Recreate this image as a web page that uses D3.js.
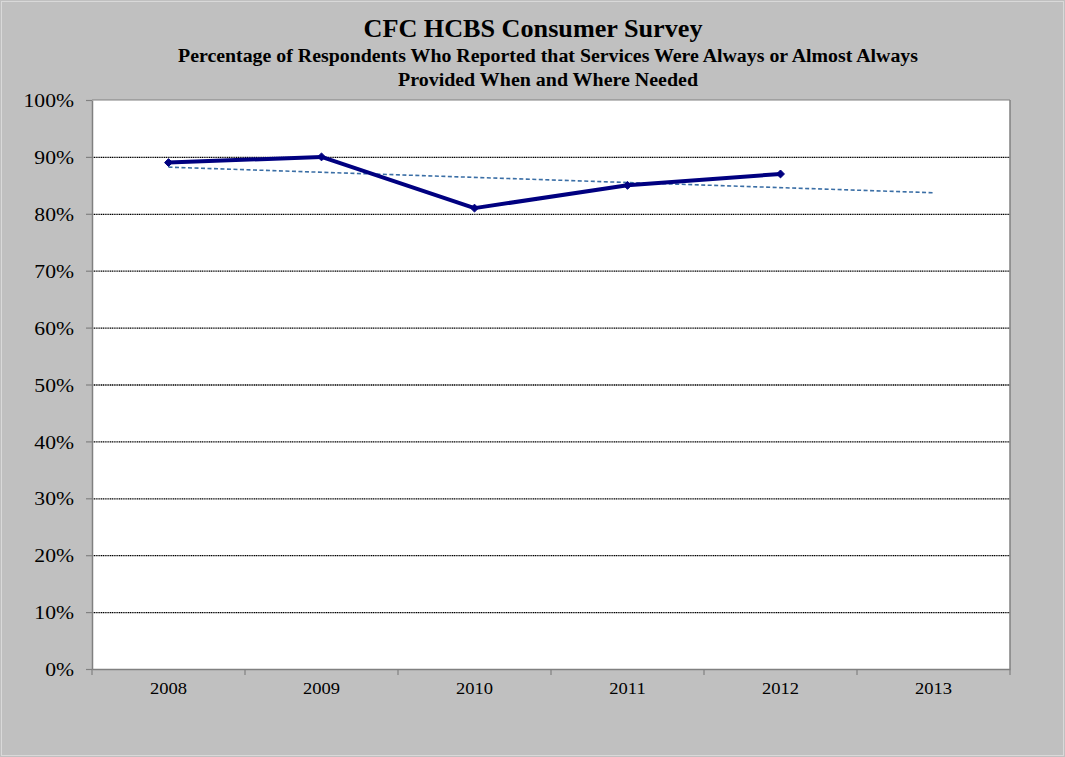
<!DOCTYPE html>
<html>
<head>
<meta charset="utf-8">
<script src="https://cdn.jsdelivr.net/npm/d3@7"></script>
<style>
  html, body { margin: 0; padding: 0; background: #c0c0c0; }
  svg { display: block; }
</style>
</head>
<body>
<svg id="chart" width="1065" height="757"></svg>
<script>
// ---- data ----
const categories = ["2008", "2009", "2010", "2011", "2012", "2013"];
const surveyYears = ["2008", "2009", "2010", "2011", "2012"];
const surveyValues = [89, 90, 81, 85, 87];
const yTicks = [0, 10, 20, 30, 40, 50, 60, 70, 80, 90, 100];
const titleText = "CFC HCBS Consumer Survey";
const subtitleLines = [
  "Percentage of Respondents Who Reported that Services Were Always or Almost Always",
  "Provided When and Where Needed"
];

// ---- layout ----
const W = 1065, H = 757;
const plot = { left: 92, right: 1010, top: 100, bottom: 669 };
const svg = d3.select("#chart");
const serif = "'Liberation Serif', 'Times New Roman', serif";

// widen text horizontally to mimic the reference's wider glyph rendering
function stretch(sel, factor) {
  sel.each(function () {
    const len = this.getComputedTextLength();
    d3.select(this).attr("textLength", len * factor).attr("lengthAdjust", "spacingAndGlyphs");
  });
}

svg.append("rect").attr("x", 0).attr("y", 0).attr("width", W).attr("height", H).attr("fill", "#c0c0c0");
svg.append("rect").attr("x", 1.5).attr("y", 1.5).attr("width", W - 3).attr("height", H - 3)
  .attr("fill", "none").attr("stroke", "#d9d9d9").attr("stroke-width", 1);

const x = d3.scaleBand().domain(categories).range([plot.left, plot.right]).padding(0);
const y = d3.scaleLinear().domain([0, 100]).range([plot.bottom, plot.top]);

// plot background
svg.append("rect").attr("x", plot.left).attr("y", plot.top)
  .attr("width", plot.right - plot.left).attr("height", plot.bottom - plot.top)
  .attr("fill", "#ffffff");

// gridlines
svg.append("g").selectAll("line").data(yTicks.filter(d => d > 0 && d < 100)).join("line")
  .attr("x1", plot.left).attr("x2", plot.right)
  .attr("y1", d => y(d) + 0.5).attr("y2", d => y(d) + 0.5)
  .attr("stroke", "#000").attr("stroke-width", 1.3).attr("stroke-dasharray", "1.2,0.6");

// plot border (right/top grey)
svg.append("line").attr("x1", plot.left).attr("x2", plot.right).attr("y1", plot.top).attr("y2", plot.top)
  .attr("stroke", "#808080").attr("stroke-width", 1.2);
svg.append("line").attr("x1", plot.right).attr("x2", plot.right).attr("y1", plot.top).attr("y2", plot.bottom)
  .attr("stroke", "#808080").attr("stroke-width", 1.5);

// y axis
const yAxis = d3.axisLeft(y).tickValues(yTicks).tickFormat(d => d + "%").tickSizeInner(6).tickSizeOuter(0).tickPadding(12);
const gy = svg.append("g").attr("transform", `translate(${plot.left},0)`).call(yAxis);
gy.select(".domain").attr("stroke", "#808080").attr("stroke-width", 1.5);
gy.selectAll(".tick line").attr("stroke", "#808080").attr("stroke-width", 1.2);
gy.selectAll(".tick text").attr("font-family", serif).attr("font-size", 18.5).attr("fill", "#000")
  .attr("dy", "0.36em");
stretch(gy.selectAll(".tick text"), 1.17);

// x axis
const xAxis = d3.axisBottom(x).tickSize(0).tickPadding(13);
const gx = svg.append("g").attr("transform", `translate(0,${plot.bottom})`).call(xAxis);
gx.select(".domain").attr("stroke", "#808080").attr("stroke-width", 1.5);
gx.selectAll(".tick text").attr("font-family", serif).attr("font-size", 17).attr("fill", "#000");
stretch(gx.selectAll(".tick text"), 1.09);
// category boundary ticks
const bounds = categories.map(c => x(c)).concat([x(categories[categories.length - 1]) + x.bandwidth()]);
svg.append("g").selectAll("line").data(bounds).join("line")
  .attr("x1", d => d).attr("x2", d => d)
  .attr("y1", plot.bottom).attr("y2", plot.bottom + 6)
  .attr("stroke", "#808080").attr("stroke-width", 1.2);

const cx = c => x(c) + x.bandwidth() / 2;

// linear trend line (least squares over the observed points, extended to 2013)
const xs = surveyYears.map((_, i) => i + 1);
const mx = d3.mean(xs), my = d3.mean(surveyValues);
const slope = d3.sum(xs, (v, i) => (v - mx) * (surveyValues[i] - my)) / d3.sum(xs, v => (v - mx) ** 2);
const intercept = my - slope * mx;
const trendPts = [[categories[0], intercept + slope * 1], [categories[categories.length - 1], intercept + slope * categories.length]];
svg.append("path")
  .attr("d", d3.line().x(d => cx(d[0])).y(d => y(d[1]))(trendPts))
  .attr("fill", "none").attr("stroke", "#3a6ea5").attr("stroke-width", 1.6)
  .attr("stroke-dasharray", "4,2.5");

// series line
const pts = surveyYears.map((c, i) => [c, surveyValues[i]]);
svg.append("path")
  .attr("d", d3.line().x(d => cx(d[0])).y(d => y(d[1]))(pts))
  .attr("fill", "none").attr("stroke", "#000080").attr("stroke-width", 4).attr("stroke-linejoin", "round");

// diamond markers
svg.append("g").selectAll("path").data(pts).join("path")
  .attr("transform", d => `translate(${cx(d[0])},${y(d[1])})`)
  .attr("d", d3.symbol().type(d3.symbolDiamond2).size(40))
  .attr("fill", "#000080").attr("stroke", "#000080").attr("stroke-width", 1);

// titles
const t = svg.append("text").attr("x", 533).attr("y", 36.5).attr("text-anchor", "middle")
  .attr("font-family", serif).attr("font-weight", "bold").attr("font-size", 26).attr("fill", "#000")
  .text(titleText);
t.attr("textLength", 339).attr("lengthAdjust", "spacingAndGlyphs");
const subWidths = [740, 300];
svg.append("g").selectAll("text").data(subtitleLines).join("text")
  .attr("x", 548).attr("y", (d, i) => 62 + i * 23.5).attr("text-anchor", "middle")
  .attr("font-family", serif).attr("font-weight", "bold").attr("font-size", 18.5).attr("fill", "#000")
  .attr("textLength", (d, i) => subWidths[i]).attr("lengthAdjust", "spacingAndGlyphs")
  .text(d => d);
</script>
</body>
</html>
